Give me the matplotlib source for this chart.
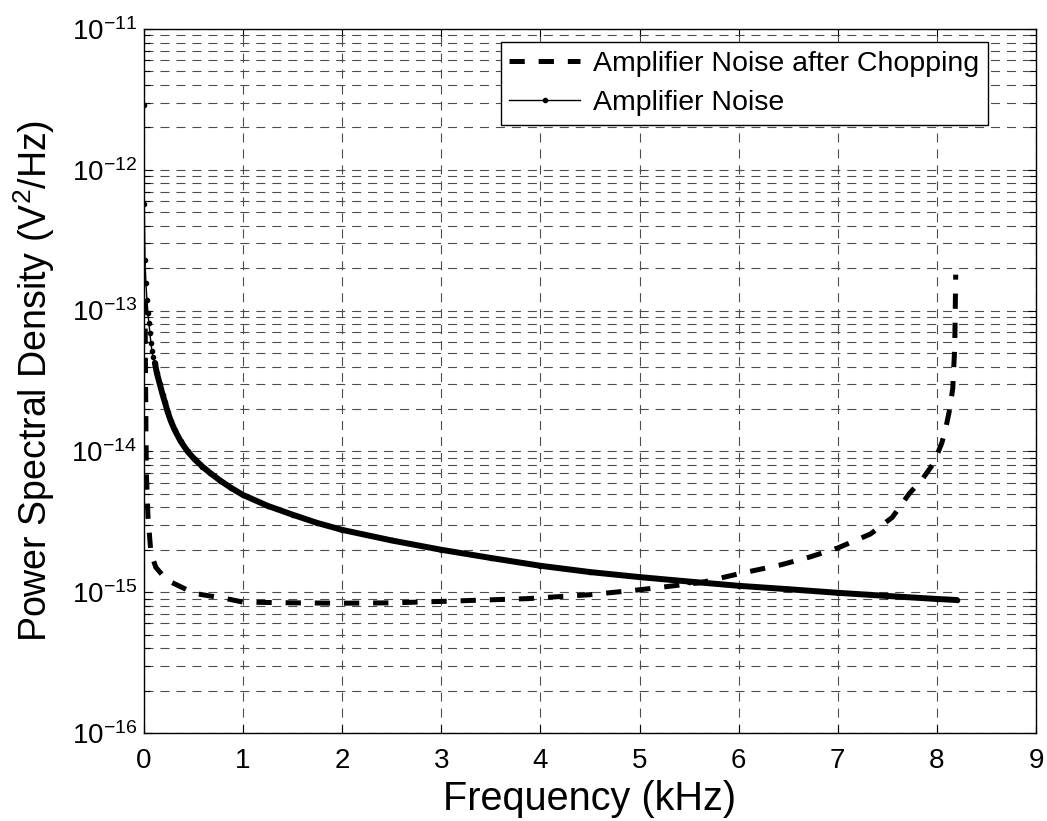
import numpy as np
import matplotlib
matplotlib.use("Agg")
import matplotlib.pyplot as plt
from matplotlib.ticker import LogFormatterMathtext, NullFormatter

plt.rcParams['font.family'] = ['Liberation Sans', 'DejaVu Sans']
plt.rcParams['mathtext.fontset'] = 'custom'
plt.rcParams['mathtext.rm'] = 'Liberation Sans'
plt.rcParams['mathtext.it'] = 'Liberation Sans:italic'
plt.rcParams['mathtext.bf'] = 'Liberation Sans:bold'
plt.rcParams['lines.scale_dashes'] = False

# amplifier noise (kHz, V^2/Hz)
f_amp = [0.001, 0.003, 0.01, 0.02, 0.03, 0.04, 0.05, 0.06, 0.07, 0.08, 0.09,
         0.11, 0.13, 0.16, 0.19, 0.21, 0.24, 0.27, 0.31, 0.37, 0.44, 0.51,
         0.59, 0.67, 0.77, 0.88, 1.0, 1.25, 1.5, 1.75, 2.0, 2.5, 3.0, 3.5,
         4.0, 4.5, 5.0, 5.5, 6.0, 6.5, 7.0, 7.5, 8.0, 8.2]
psd_amp = [2.9e-12, 5.7e-13, 2.3e-13, 1.57e-13, 1.19e-13, 9.6e-14, 8.1e-14,
           6.9e-14, 5.9e-14, 5.2e-14, 4.7e-14, 4.25e-14, 3.6e-14, 3.0e-14,
           2.5e-14, 2.25e-14, 1.9e-14, 1.65e-14, 1.42e-14, 1.18e-14, 1.0e-14,
           8.8e-15, 7.8e-15, 7.0e-15, 6.2e-15, 5.5e-15, 4.9e-15, 4.1e-15,
           3.55e-15, 3.1e-15, 2.77e-15, 2.33e-15, 2.0e-15, 1.75e-15, 1.54e-15,
           1.39e-15, 1.28e-15, 1.19e-15, 1.11e-15, 1.05e-15, 9.9e-16, 9.4e-16,
           8.95e-16, 8.8e-16]

# amplifier noise after chopping
f_chop = [0.01, 0.015, 0.02, 0.025, 0.04, 0.07, 0.12, 0.23, 0.51, 0.83, 1.0,
          1.5, 2.0, 2.5, 3.0, 3.87, 4.5, 5.0, 5.62, 6.02, 6.42, 6.72, 7.0,
          7.33, 7.55, 7.72, 7.85, 7.97, 8.05, 8.09, 8.13, 8.16, 8.18, 8.19]
psd_chop = [1.2e-13, 4e-14, 1.45e-14, 6.7e-15, 3.5e-15, 1.9e-15, 1.5e-15,
            1.22e-15, 9.8e-16, 9.0e-16, 8.5e-16, 8.4e-16, 8.35e-16, 8.4e-16,
            8.6e-16, 9.0e-16, 9.6e-16, 1.04e-15, 1.17e-15, 1.36e-15, 1.56e-15,
            1.78e-15, 2.06e-15, 2.59e-15, 3.4e-15, 5.0e-15, 6.3e-15, 8.3e-15,
            1.15e-14, 1.47e-14, 2.0e-14, 2.8e-14, 5.5e-14, 1.8e-13]

x_ticks = list(range(10))
decades = [-16, -15, -14, -13, -12, -11]

fig = plt.figure(figsize=(10.47, 8.21), dpi=100)
ax = fig.add_axes([0.1375, 0.1072, 0.852, 0.8575])

ax.plot(f_chop, psd_chop, color='k', lw=3.6, ls=(0, (11, 10)),
        label='Amplifier Noise after Chopping')
fa = np.array(f_amp)
pa = np.array(psd_amp)
thick = fa >= 0.1
ax.plot(fa[thick], pa[thick], color='k', lw=4.3, solid_capstyle='round')
ax.plot(fa, pa, color='k', lw=1, marker='o', ms=3, label='Amplifier Noise')

ax.set_yscale('log')
ax.set_xlim(0, 9)
ax.set_ylim(1e-16, 1e-11)
ax.set_xticks(x_ticks)
major_y = [10.0 ** d for d in decades]
minor_y = [m * 10.0 ** d for d in decades[:-1] for m in range(2, 10)]
ax.set_yticks(major_y)
ax.set_yticks(minor_y, minor=True)
ax.yaxis.set_major_formatter(LogFormatterMathtext())
ax.yaxis.set_minor_formatter(NullFormatter())

grid_kw = dict(color='0.3', lw=0.8, ls=(0, (6.5, 5)))
ax.xaxis.grid(True, which='major', **grid_kw)
ax.yaxis.grid(True, which='both', **grid_kw)

ax.tick_params(which='both', direction='in', top=True, right=True,
               labelsize=20, width=0.8)
ax.tick_params(which='major', length=6)
ax.tick_params(which='minor', length=4)
ax.tick_params(axis='x', pad=11)
ax.tick_params(axis='y', pad=5)
for s in ax.spines.values():
    s.set_linewidth(1.0)

ax.set_xlabel('Frequency (kHz)', fontsize=28.5, labelpad=4)
ax.set_ylabel('Power Spectral Density (V$^2$/Hz)', fontsize=27, labelpad=10)

leg = ax.legend(loc='upper right', bbox_to_anchor=(0.946, 0.9815), fontsize=20.5,
                handlelength=2.5, handletextpad=0.45, labelspacing=0.48,
                borderpad=0.3, borderaxespad=0, fancybox=False, framealpha=1)
leg.get_frame().set_edgecolor('k')
leg.get_frame().set_linewidth(1.0)

fig.savefig('out.png', dpi=100)
